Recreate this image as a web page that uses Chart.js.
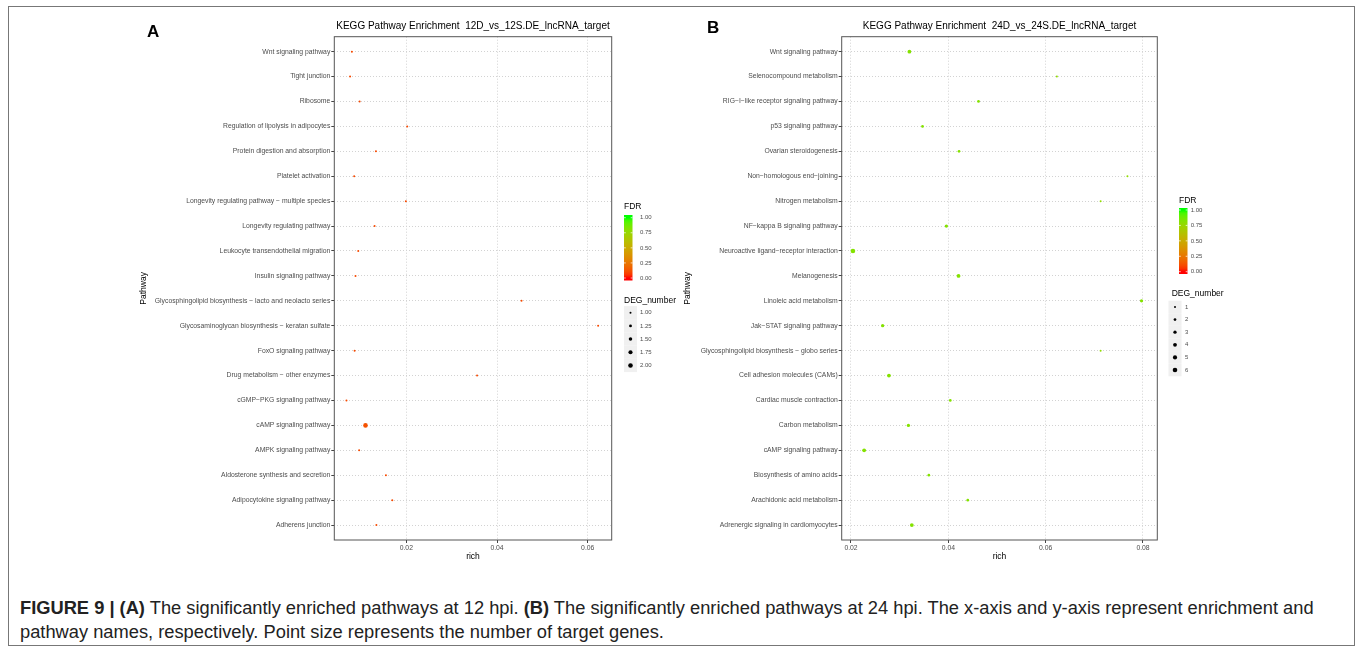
<!DOCTYPE html>
<html>
<head>
<meta charset="utf-8">
<script src="https://cdn.jsdelivr.net/npm/chart.js@4.4.0/dist/chart.umd.min.js"></script>
<style>
  body { margin: 0; background: #fff; width: 1362px; height: 650px; overflow: hidden; font-family: "Liberation Sans", Arial, sans-serif; }
  #frame { position: absolute; left: 8px; top: 6px; width: 1345px; height: 638px; border: 1px solid #777; }
  canvas { position: absolute; top: 0; }
  #chartA { left: 0; }
  #chartB { left: 670px; }
  .tag { position: absolute; font: bold 17px "Liberation Sans", Arial, sans-serif; color: #000; }
  #cap { position: absolute; left: 20px; top: 596px; font-size: 18.3px; line-height: 24px; color: #222; white-space: nowrap; }
</style>
</head>
<body>
<div id="frame"></div>
<canvas id="chartA" width="700" height="570"></canvas>
<canvas id="chartB" width="610" height="570"></canvas>
<div class="tag" style="left:147px;top:22px">A</div>
<div class="tag" style="left:707px;top:18px">B</div>
<div id="cap"><b>FIGURE 9 | (A)</b> The significantly enriched pathways at 12 hpi. <b>(B)</b> The significantly enriched pathways at 24 hpi. The x-axis and y-axis represent enrichment and<br>pathway names, respectively. Point size represents the number of target genes.</div>

<script>
// panel A : 12D vs 12S
const pathwaysA = [
  "Wnt signaling pathway", "Tight junction", "Ribosome", "Regulation of lipolysis in adipocytes",
  "Protein digestion and absorption", "Platelet activation", "Longevity regulating pathway \u2212 multiple species",
  "Longevity regulating pathway", "Leukocyte transendothelial migration", "Insulin signaling pathway",
  "Glycosphingolipid biosynthesis \u2212 lacto and neolacto series", "Glycosaminoglycan biosynthesis \u2212 keratan sulfate",
  "FoxO signaling pathway", "Drug metabolism \u2212 other enzymes", "cGMP\u2212PKG signaling pathway",
  "cAMP signaling pathway", "AMPK signaling pathway", "Aldosterone synthesis and secretion",
  "Adipocytokine signaling pathway", "Adherens junction"
];
const richA = [0.0080, 0.0076, 0.0097, 0.0202, 0.0133, 0.0085, 0.0199, 0.0130, 0.0094, 0.0088,
               0.0454, 0.0623, 0.0086, 0.0356, 0.0068, 0.0110, 0.0096, 0.0155, 0.0169, 0.0134];
const degA = [1, 1, 1, 1, 1, 1, 1, 1, 1, 1, 1, 1, 1, 1, 1, 2, 1, 1, 1, 1];
const fdrA = [0.1, 0.1, 0.1, 0.1, 0.1, 0.1, 0.1, 0.1, 0.1, 0.1, 0.1, 0.1, 0.1, 0.1, 0.1, 0.12, 0.1, 0.1, 0.1, 0.1];
const degKeysA = [1.00, 1.25, 1.50, 1.75, 2.00];

// panel B : 24D vs 24S
const pathwaysB = [
  "Wnt signaling pathway", "Selenocompound metabolism", "RIG\u2212I\u2212like receptor signaling pathway",
  "p53 signaling pathway", "Ovarian steroidogenesis", "Non\u2212homologous end\u2212joining", "Nitrogen metabolism",
  "NF\u2212kappa B signaling pathway", "Neuroactive ligand\u2212receptor interaction", "Melanogenesis",
  "Linoleic acid metabolism", "Jak\u2212STAT signaling pathway", "Glycosphingolipid biosynthesis \u2212 globo series",
  "Cell adhesion molecules (CAMs)", "Cardiac muscle contraction", "Carbon metabolism", "cAMP signaling pathway",
  "Biosynthesis of amino acids", "Arachidonic acid metabolism", "Adrenergic signaling in cardiomyocytes"
];
const richB = [0.0320, 0.0623, 0.0462, 0.0347, 0.0422, 0.0768, 0.0713, 0.0396, 0.0204, 0.0421,
               0.0797, 0.0265, 0.0713, 0.0278, 0.0404, 0.0318, 0.0227, 0.0360, 0.0440, 0.0325];
const degB = [4, 1, 2, 2, 2, 1, 1, 3, 6, 4, 3, 3, 1, 4, 2, 3, 4, 2, 2, 4];
const fdrB = [0.82, 0.78, 0.82, 0.82, 0.82, 0.78, 0.78, 0.82, 0.82, 0.82,
              0.82, 0.82, 0.78, 0.82, 0.82, 0.82, 0.82, 0.82, 0.82, 0.82];
const degKeysB = [1, 2, 3, 4, 5, 6];

const fdrTicks = [0, 0.25, 0.5, 0.75, 1];

// red -> green in Lab space, like scale_colour_gradient
function toLin(c) { c /= 255; return c <= 0.04045 ? c / 12.92 : Math.pow((c + 0.055) / 1.055, 2.4); }
function fromLin(c) {
  c = c <= 0.0031308 ? 12.92 * c : 1.055 * Math.pow(c, 1 / 2.4) - 0.055;
  return Math.round(Math.max(0, Math.min(1, c)) * 255);
}
function rgb2lab(rgb) {
  const [r, g, b] = rgb.map(toLin);
  let x = (0.4124 * r + 0.3576 * g + 0.1805 * b) / 0.95047;
  let y = (0.2126 * r + 0.7152 * g + 0.0722 * b);
  let z = (0.0193 * r + 0.1192 * g + 0.9505 * b) / 1.08883;
  const f = t => t > 0.008856 ? Math.cbrt(t) : 7.787 * t + 16 / 116;
  x = f(x); y = f(y); z = f(z);
  return [116 * y - 16, 500 * (x - y), 200 * (y - z)];
}
function lab2rgb([L, a, bb]) {
  let y = (L + 16) / 116, x = a / 500 + y, z = y - bb / 200;
  const fi = t => t * t * t > 0.008856 ? t * t * t : (t - 16 / 116) / 7.787;
  x = fi(x) * 0.95047; y = fi(y); z = fi(z) * 1.08883;
  const r = 3.2406 * x - 1.5372 * y - 0.4986 * z;
  const g = -0.9689 * x + 1.8758 * y + 0.0415 * z;
  const b = 0.0557 * x - 0.2040 * y + 1.0570 * z;
  return `rgb(${fromLin(r)},${fromLin(g)},${fromLin(b)})`;
}
const labLow = rgb2lab([255, 0, 0]);
const labHigh = rgb2lab([0, 255, 0]);
function fdrColor(v) {
  return lab2rgb(labLow.map((c, i) => c + (labHigh[i] - c) * v));
}

// area scaled size, like scale_size
function sizer(lo, hi, rMin, rMax) {
  return d => Math.sqrt(rMin * rMin + (rMax * rMax - rMin * rMin) * (d - lo) / (hi - lo));
}

// legend layout per canvas (kept outside chart options so nothing gets resolved as scriptable)
const legendSetup = {};

const decor = {
  id: 'decor',
  beforeDatasetsDraw(chart) {
    const { ctx, chartArea: a } = chart;
    ctx.save();
    ctx.strokeStyle = '#555';
    ctx.lineWidth = 1;
    ctx.strokeRect(a.left, a.top, a.right - a.left, a.bottom - a.top);
    ctx.restore();
  },
  afterDraw(chart) {
    const o = legendSetup[chart.canvas.id];
    const { ctx, chartArea: a } = chart;
    ctx.save();
    ctx.textBaseline = 'middle';
    // title
    ctx.fillStyle = '#000';
    ctx.font = '10px "Liberation Sans", Arial, sans-serif';
    ctx.textAlign = 'center';
    ctx.fillText(o.title, (a.left + a.right) / 2, 26);

    // FDR colour bar
    const c = o.bar;
    ctx.textAlign = 'left';
    ctx.font = '8.5px "Liberation Sans", Arial, sans-serif';
    ctx.fillText('FDR', c.x, c.titleY);
    const grad = ctx.createLinearGradient(0, c.y0, 0, c.y1);
    for (let i = 0; i <= 20; i++) grad.addColorStop(i / 20, fdrColor(i / 20));
    ctx.fillStyle = grad;
    ctx.fillRect(c.x, c.top, c.w, c.bottom - c.top);
    ctx.font = '6px "Liberation Sans", Arial, sans-serif';
    fdrTicks.forEach(t => {
      const y = c.y0 + (c.y1 - c.y0) * t;
      ctx.strokeStyle = '#fff';
      ctx.lineWidth = 0.7;
      ctx.beginPath();
      ctx.moveTo(c.x, y); ctx.lineTo(c.x + 1.8, y);
      ctx.moveTo(c.x + c.w - 1.8, y); ctx.lineTo(c.x + c.w, y);
      ctx.stroke();
      ctx.fillStyle = '#4d4d4d';
      ctx.fillText(t.toFixed(2), c.labelX, y);
    });

    // DEG_number size keys
    const s = o.size;
    ctx.fillStyle = '#000';
    ctx.font = '8.5px "Liberation Sans", Arial, sans-serif';
    ctx.fillText('DEG_number', s.x, s.titleY);
    s.keys.forEach((k, i) => {
      const y = s.y0 + i * s.step;
      ctx.fillStyle = '#f0f0f0';
      ctx.fillRect(s.keyX, y - s.step / 2, s.keyW, s.step);
      ctx.fillStyle = '#000';
      ctx.beginPath();
      ctx.arc(s.keyX + s.keyW / 2, y, o.radius(k), 0, Math.PI * 2);
      ctx.fill();
      ctx.fillStyle = '#4d4d4d';
      ctx.font = '6px "Liberation Sans", Arial, sans-serif';
      ctx.fillText(k.toFixed(s.digits), s.labelX, y);
    });
    ctx.restore();
  }
};

function makePanel(id, p) {
  const radius = sizer(p.degLo, p.degHi, 1.0, 2.3);
  legendSetup[id] = { title: p.title, bar: p.bar, size: p.size, radius: radius };
  const tickFont = { size: 6.8, family: '"Liberation Sans", Arial, sans-serif' };
  const axisTitleFont = { size: 8.5, family: '"Liberation Sans", Arial, sans-serif' };
  const gridCommon = { color: '#d2d2d2', lineWidth: 1, tickColor: '#444', tickLength: 3, tickWidth: 1, tickBorderDash: [], offset: false };
  return new Chart(document.getElementById(id), {
    type: 'scatter',
    data: {
      datasets: [{
        data: p.rich.map((x, i) => ({ x: x, y: i })),
        pointRadius: ctx => radius(p.deg[ctx.dataIndex]),
        pointHoverRadius: ctx => radius(p.deg[ctx.dataIndex]),
        backgroundColor: ctx => fdrColor(p.fdr[ctx.dataIndex]),
        borderWidth: 0
      }]
    },
    options: {
      responsive: false,
      animation: false,
      events: [],
      layout: { padding: { left: p.padLeft, right: p.padRight, top: 36.7, bottom: 0 } },
      plugins: {
        legend: { display: false },
        tooltip: { enabled: false }
      },
      scales: {
        x: {
          type: 'linear',
          min: p.xMin, max: p.xMax,
          afterFit: s => { s.height = 30; },
          border: { display: false, dash: [1, 2] },
          grid: gridCommon,
          ticks: { stepSize: 0.02, includeBounds: false, padding: 1, color: '#4d4d4d', font: tickFont,
                   maxRotation: 0, callback: v => v.toFixed(2) },
          title: { display: true, text: 'rich', color: '#000', font: axisTitleFont, padding: { top: 0, bottom: 8 } }
        },
        y: {
          type: 'linear',
          reverse: true,
          min: -0.6, max: p.labels.length - 0.4,
          afterFit: s => { s.width = p.yWidth; },
          border: { display: false, dash: [1, 2] },
          grid: gridCommon,
          ticks: { stepSize: 1, includeBounds: false, autoSkip: false, padding: 1, color: '#4d4d4d', font: tickFont,
                   callback: v => p.labels[v] ?? '' },
          title: { display: true, text: 'Pathway', color: '#000', font: axisTitleFont, padding: { top: 4, bottom: 4 } }
        }
      }
    },
    plugins: [decor]
  });
}

makePanel('chartA', {
  labels: pathwaysA, rich: richA, deg: degA, fdr: fdrA,
  degLo: 1, degHi: 2,
  title: 'KEGG Pathway Enrichment  12D_vs_12S.DE_lncRNA_target',
  xMin: 0.00412, xMax: 0.06529,
  padLeft: 135, yWidth: 199.3, padRight: 88.3,
  bar: { x: 624, titleY: 207, top: 215, bottom: 280.5, w: 8.5, y0: 278, y1: 217.7, labelX: 640 },
  size: { keys: degKeysA, digits: 2, x: 624, titleY: 300.7, keyX: 624, keyW: 13, y0: 312.7, step: 13.2, labelX: 640 }
});

makePanel('chartB', {
  labels: pathwaysB, rich: richB, deg: degB, fdr: fdrB,
  degLo: 1, degHi: 6,
  title: 'KEGG Pathway Enrichment  24D_vs_24S.DE_lncRNA_target',
  xMin: 0.01809, xMax: 0.08294,
  padLeft: 9, yWidth: 162.7, padRight: 122.7,
  bar: { x: 509, titleY: 201, top: 208, bottom: 274, w: 8.5, y0: 271.7, y1: 210, labelX: 520.7 },
  size: { keys: degKeysB, digits: 0, x: 501.7, titleY: 294, keyX: 498.5, keyW: 13, y0: 307, step: 12.6, labelX: 515 }
});
</script>
</body>
</html>
